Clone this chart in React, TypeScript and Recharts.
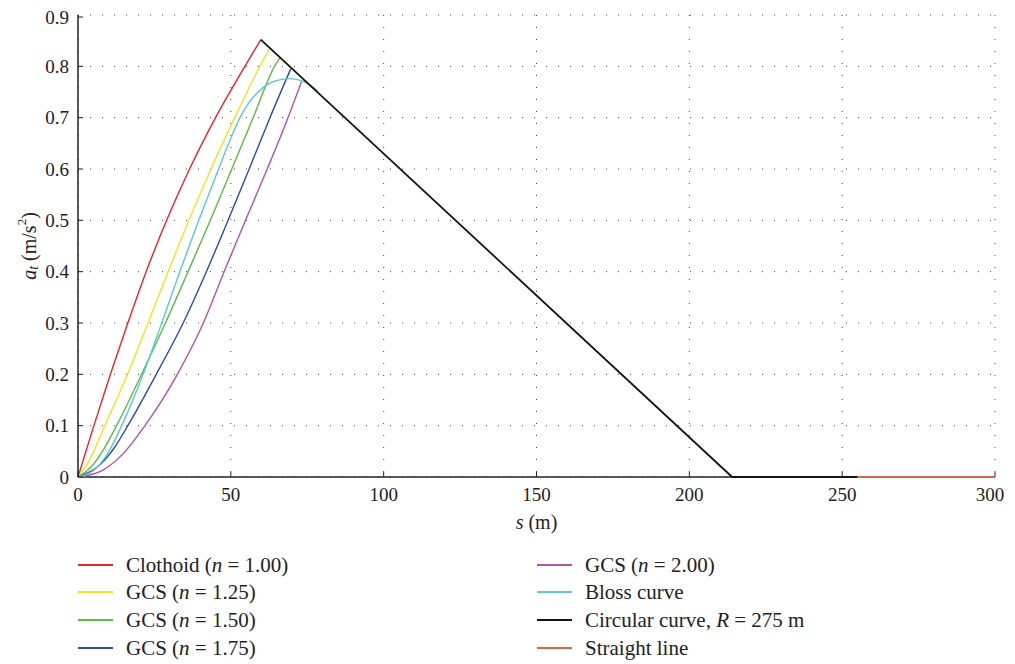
import React from "react";
import { CartesianGrid, Line, LineChart, ReferenceLine, XAxis, YAxis } from "recharts";

// s (m) vs a_t (m/s^2)
const clothoid = [
  { s: 0, a: 0 }, { s: 5.2, a: 0.1 }, { s: 10.6, a: 0.2 }, { s: 16.3, a: 0.3 },
  { s: 22.3, a: 0.4 }, { s: 29, a: 0.5 }, { s: 36.5, a: 0.6 }, { s: 45, a: 0.7 },
  { s: 54.6, a: 0.8 }, { s: 59.8, a: 0.852 }
];
const gcs125 = [
  { s: 0, a: 0 }, { s: 3.5, a: 0.03 }, { s: 8.8, a: 0.1 }, { s: 16.2, a: 0.2 },
  { s: 22.9, a: 0.3 }, { s: 29.5, a: 0.4 }, { s: 36.3, a: 0.5 }, { s: 43.5, a: 0.6 },
  { s: 51.3, a: 0.7 }, { s: 59.5, a: 0.8 }, { s: 62.7, a: 0.834 }
];
const gcs150 = [
  { s: 0, a: 0 }, { s: 4.5, a: 0.021 }, { s: 8.5, a: 0.055 }, { s: 12.6, a: 0.1 },
  { s: 20.8, a: 0.2 }, { s: 28.6, a: 0.3 }, { s: 36, a: 0.4 }, { s: 43.3, a: 0.5 },
  { s: 50.3, a: 0.6 }, { s: 57.3, a: 0.7 }, { s: 64.3, a: 0.8 }, { s: 66, a: 0.816 }
];
const gcs175 = [
  { s: 0, a: 0 }, { s: 7, a: 0.023 }, { s: 12, a: 0.058 }, { s: 16.3, a: 0.1 },
  { s: 25.6, a: 0.2 }, { s: 34.4, a: 0.3 }, { s: 42, a: 0.4 }, { s: 49.1, a: 0.5 },
  { s: 56, a: 0.6 }, { s: 62.8, a: 0.7 }, { s: 69.6, a: 0.795 }
];
const gcs200 = [
  { s: 0, a: 0 }, { s: 8, a: 0.013 }, { s: 15, a: 0.047 }, { s: 21.9, a: 0.1 },
  { s: 32.5, a: 0.2 }, { s: 41, a: 0.3 }, { s: 47.8, a: 0.4 }, { s: 54.8, a: 0.5 },
  { s: 61.9, a: 0.6 }, { s: 68.7, a: 0.7 }, { s: 73.1, a: 0.77 }
];
const bloss = [
  { s: 0, a: 0 }, { s: 6.1, a: 0.018 }, { s: 10.5, a: 0.054 }, { s: 14.3, a: 0.1 },
  { s: 21.3, a: 0.2 }, { s: 27.4, a: 0.3 }, { s: 33.3, a: 0.4 }, { s: 39.5, a: 0.5 },
  { s: 46, a: 0.6 }, { s: 50, a: 0.66 }, { s: 53, a: 0.7 }, { s: 56, a: 0.73 },
  { s: 59.5, a: 0.753 }, { s: 63.8, a: 0.77 }, { s: 69.3, a: 0.776 }, { s: 74, a: 0.77 },
  { s: 78.4, a: 0.752 }
];
const circular = [{ s: 59.8, a: 0.852 }, { s: 214, a: 0 }, { s: 255, a: 0 }];
const straight = [{ s: 255, a: 0 }, { s: 300, a: 0 }];

const xTicks = [0, 50, 100, 150, 200, 250, 300];
const yTicks = [0, 0.1, 0.2, 0.3, 0.4, 0.5, 0.6, 0.7, 0.8, 0.9];

const FONT = "'Liberation Serif', 'DejaVu Serif', serif";

const series = [
  { key: "clothoid", data: clothoid, color: "#f0212b", type: "monotone", width: 1.4 },
  { key: "gcs125", data: gcs125, color: "#f3e31a", type: "monotone", width: 1.4 },
  { key: "gcs150", data: gcs150, color: "#5bbd3c", type: "monotone", width: 1.4 },
  { key: "gcs175", data: gcs175, color: "#2c4ca6", type: "monotone", width: 1.4 },
  { key: "gcs200", data: gcs200, color: "#b650ae", type: "monotone", width: 1.4 },
  { key: "bloss", data: bloss, color: "#5ac8de", type: "monotone", width: 1.4 },
  { key: "circular", data: circular, color: "#151515", type: "linear", width: 1.8 },
  { key: "straight", data: straight, color: "#e0633a", type: "linear", width: 2.2 }
];

const legendLeft = [
  { color: "#f0212b", label: <>Clothoid (<i>n</i> = 1.00)</> },
  { color: "#f3e31a", label: <>GCS (<i>n</i> = 1.25)</> },
  { color: "#5bbd3c", label: <>GCS (<i>n</i> = 1.50)</> },
  { color: "#2c4ca6", label: <>GCS (<i>n</i> = 1.75)</> }
];
const legendRight = [
  { color: "#b650ae", label: <>GCS (<i>n</i> = 2.00)</> },
  { color: "#5ac8de", label: <>Bloss curve</> },
  { color: "#151515", label: <>Circular curve, <i>R</i> = 275 m</> },
  { color: "#e0633a", label: <>Straight line</> }
];

function BottomTick({ x, y, payload }: any) {
  // keep the last label inside the page edge
  const tx = payload.value === 300 ? x - 5 : x;
  return (
    <g>
      <line x1={x} y1={y} x2={x} y2={y - 5} stroke="#222" strokeWidth={1} />
      <text x={tx} y={y + 17} textAnchor="middle" dominantBaseline="central" fontFamily={FONT} fontSize={19} fill="#222">
        {payload.value}
      </text>
    </g>
  );
}

function LeftTick({ x, y, payload }: any) {
  return (
    <g>
      <line x1={x} y1={y} x2={x + 5} y2={y} stroke="#222" strokeWidth={1} />
      <text x={x - 9} y={y} textAnchor="end" dominantBaseline="central" fontFamily={FONT} fontSize={19} fill="#222">
        {payload.value}
      </text>
    </g>
  );
}

function TopTick({ x, y }: any) {
  return <line x1={x} y1={y} x2={x} y2={y + 5} stroke="#222" strokeWidth={1} />;
}

function RightTick({ x, y }: any) {
  return <line x1={x} y1={y} x2={x - 5} y2={y} stroke="#222" strokeWidth={1} />;
}

function LegendColumn({ items, left }: { items: typeof legendLeft; left: number }) {
  return (
    <div style={{ position: "absolute", left, top: 13 }}>
      {items.map((it, i) => (
        <div key={i} style={{ display: "flex", alignItems: "center", height: 27.6 }}>
          <div style={{ width: 35, height: 2, background: it.color, marginRight: 13 }} />
          <span style={{ fontFamily: FONT, fontSize: 21, color: "#222", whiteSpace: "nowrap", lineHeight: "24px" }}>{it.label}</span>
        </div>
      ))}
    </div>
  );
}

export default function App() {
  return (
    <div style={{ position: "relative", width: 999, height: 654 }}>
      <LineChart
        width={999}
        height={530}
        margin={{ top: 7, right: 12, left: 10, bottom: 21 }}
        style={{ overflow: "visible" }}
      >
        <CartesianGrid strokeDasharray="1 11" stroke="#444" />
        <XAxis
          dataKey="s"
          type="number"
          domain={[0, 300]}
          ticks={xTicks}
          height={40}
          tickSize={0}
          tickMargin={0}
          tick={<BottomTick />}
          axisLine={false}
          label={{
            content: ({ viewBox }: any) => (
              <text x={viewBox.x + viewBox.width / 2} y={viewBox.y + 45} textAnchor="middle" dominantBaseline="central" fontFamily={FONT} fontSize={20} fill="#222">
                <tspan fontStyle="italic">s</tspan> (m)
              </text>
            )
          }}
        />
        <XAxis
          xAxisId="top"
          orientation="top"
          dataKey="s"
          type="number"
          domain={[0, 300]}
          ticks={xTicks}
          height={0}
          tickSize={0}
          tickMargin={0}
          tick={<TopTick />}
          axisLine={{ stroke: "#555", strokeWidth: 1 }}
        />
        <YAxis
          type="number"
          domain={[0, 0.9]}
          ticks={yTicks}
          width={60}
          tickSize={0}
          tickMargin={0}
          tick={<LeftTick />}
          axisLine={{ stroke: "#222", strokeWidth: 1.5 }}
          label={{
            content: ({ viewBox }: any) => {
              const cx = viewBox.x + 11;
              const cy = viewBox.y + viewBox.height / 2;
              return (
                <text x={cx} y={cy} transform={`rotate(-90 ${cx} ${cy})`} textAnchor="middle" dominantBaseline="central" fontFamily={FONT} fontSize={20} fill="#222">
                  <tspan fontStyle="italic">a</tspan>
                  <tspan fontStyle="italic" fontSize={14} dy={4}>t</tspan>
                  <tspan dy={-4}> (m/s</tspan>
                  <tspan fontSize={13} dy={-8}>2</tspan>
                  <tspan dy={8}>)</tspan>
                </text>
              );
            }
          }}
        />
        <YAxis
          yAxisId="right"
          orientation="right"
          type="number"
          domain={[0, 0.9]}
          ticks={yTicks}
          width={0}
          tickSize={0}
          tickMargin={0}
          tick={<RightTick />}
          axisLine={{ stroke: "#555", strokeWidth: 1 }}
        />
        <ReferenceLine y={0} stroke="#222" strokeWidth={1.5} />
        {series.map((sr) => (
          <Line
            key={sr.key}
            data={sr.data}
            dataKey="a"
            type={sr.type as any}
            stroke={sr.color}
            strokeWidth={sr.width}
            dot={false}
            activeDot={false}
            isAnimationActive={false}
          />
        ))}
      </LineChart>
      <div style={{ position: "absolute", top: 530, left: 0, width: 999, height: 124 }}>
        <LegendColumn items={legendLeft} left={70} />
        <LegendColumn items={legendRight} left={529} />
      </div>
    </div>
  );
}
